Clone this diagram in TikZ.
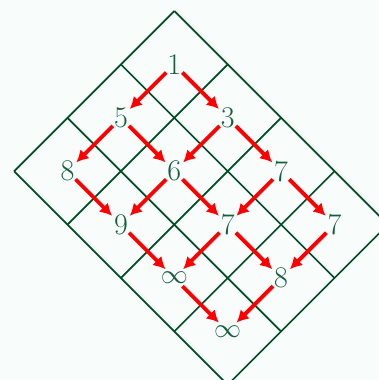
\documentclass[tikz,border=0pt]{standalone}
\usepackage{fix-cm}
\usepackage{fontspec}
\usetikzlibrary{arrows.meta}
\definecolor{bgc}{RGB}{248,252,250}
\definecolor{gridc}{RGB}{0,77,38}
\definecolor{numc}{RGB}{22,94,62}
\tikzset{
  gridline/.style={draw=gridc, line width=1.7pt},
  num/.style={text=numc, inner sep=0pt, font=\fontsize{30}{36}\selectfont},
  inf/.style={text=numc, inner sep=0pt, font=\fontsize{27}{32}\selectfont},
  arr/.style={draw=red, line width=3.8pt, -{Latex[length=12pt,width=13pt]},
    shorten <=11.5pt, shorten >=12.5pt},
}
\begin{document}
\begin{tikzpicture}[x=1pt,y=-1pt]
\fill[bgc] (0,0) rectangle (379,380);
\useasboundingbox (0,0) rectangle (379,380);
\clip (0,0) rectangle (379,380);
\foreach \i in {0,...,3}
  \draw[gridline] ({174.3-\i*53.4},{11+\i*53.4}) -- ({174.3+(4-\i)*53.4},{11+(\i+4)*53.4});
\foreach \j in {0,...,4}
  \draw[gridline] ({174.3+\j*53.4},{11+\j*53.4}) -- ({174.3+(\j-3)*53.4},{11+(\j+3)*53.4});
\node[num] (c00) at (174.3,64.4) {1};
\node[num] (c10) at (120.9,117.8) {5};
\node[num] (c01) at (227.7,117.8) {3};
\node[num] (c20) at (67.5,171.2) {8};
\node[num] (c11) at (174.3,171.2) {6};
\node[num] (c02) at (281.1,171.2) {7};
\node[num] (c21) at (120.9,224.6) {9};
\node[num] (c12) at (227.7,224.6) {7};
\node[num] (c03) at (334.5,224.6) {7};
\node[inf] (c22) at (174.3,278) {$\infty$};
\node[num] (c13) at (281.1,278) {8};
\node[inf] (c23) at (227.7,331.4) {$\infty$};
\foreach \a/\b in {c00/c10,c00/c01,c10/c20,c10/c11,c01/c11,c01/c02,
  c20/c21,c11/c21,c11/c12,c02/c12,c02/c03,c21/c22,c12/c22,c12/c13,
  c03/c13,c22/c23,c13/c23}
  \draw[arr] (\a.center) -- (\b.center);
\end{tikzpicture}
\end{document}
